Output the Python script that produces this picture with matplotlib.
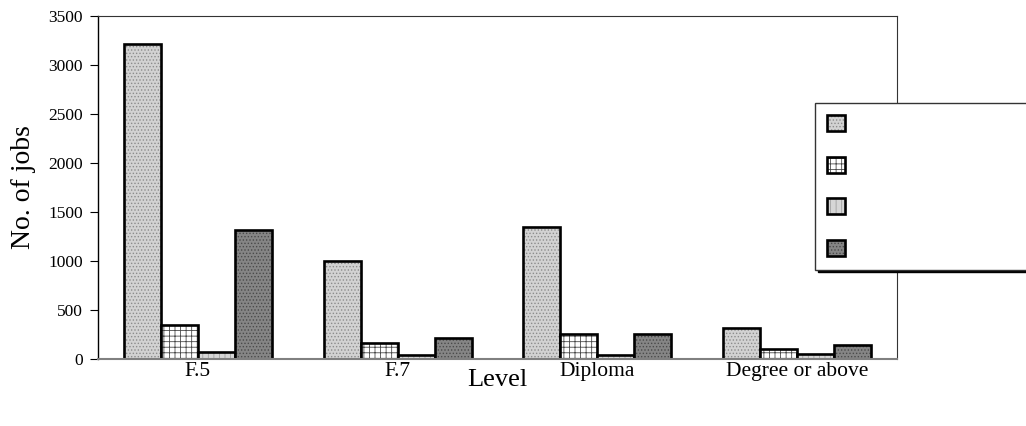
import numpy as np
import matplotlib
matplotlib.use('Agg')
import matplotlib.pyplot as plt

levels = ['F.5', 'F.7', 'Diploma', 'Degree or above']
s1 = [3210, 1000, 1350, 320]
s2 = [350, 160, 260, 100]
s3 = [70, 40, 45, 50]
s4 = [1320, 210, 260, 140]
series = [s1, s2, s3, s4]

# fill, hatch colour, hatch
styles = [('#d2d2d2', '#8c8c8c', '.....'),
          ('#ffffff', '#4a4a4a', '+++'),
          ('#d6d6d6', '#a0a0a0', '|||'),
          ('#858585', '#4a4a4a', '.....')]

plt.rcParams['font.family'] = ['Liberation Serif', 'DejaVu Serif']
plt.rcParams['hatch.linewidth'] = 0.6

fig = plt.figure(figsize=(10.26, 4.26), dpi=100)
ax = fig.add_axes([0.0955, 0.1573, 0.7788, 0.8052])

x = np.arange(len(levels))
w = 0.185
handles = []
for i, vals in enumerate(series):
    pos = x + (i - 1.5) * w
    fc, hc, h = styles[i]
    fill = ax.bar(pos, vals, w, color=fc, edgecolor=hc, hatch=h, linewidth=0)
    edge = ax.bar(pos, vals, w, facecolor='none', edgecolor='black', linewidth=1.9)
    handles.append((fill, edge))

ax.set_xlim(-0.5, 3.5)
ax.set_ylim(0, 3500)
ax.set_yticks(range(0, 3501, 500))
ax.set_xticks(x)
ax.set_xticklabels(levels, fontsize=15.5)
ax.tick_params(axis='x', length=0, pad=2)
ax.tick_params(axis='y', labelsize=12.5, length=5.5, pad=5.5, direction='out')
ax.set_ylabel('No. of jobs', fontsize=20, labelpad=9)
ax.set_xlabel('Level', fontsize=19)
ax.xaxis.set_label_coords(0.5, -0.03)

ax.spines['left'].set_color('black')
ax.spines['left'].set_linewidth(1.0)
ax.spines['bottom'].set_color('#808080')
ax.spines['bottom'].set_linewidth(1.5)
ax.spines['top'].set_color('#333333')
ax.spines['top'].set_linewidth(0.8)
ax.spines['right'].set_color('#333333')
ax.spines['right'].set_linewidth(0.8)

leg = fig.legend(handles, [''] * 4, loc='upper left',
                 bbox_to_anchor=(815 / 1026, 1 - 103 / 426, 0.3, 0), mode='expand',
                 borderaxespad=0, fontsize=12, handlelength=1.1, handleheight=1.1,
                 labelspacing=1.45, borderpad=0.7, fancybox=False,
                 shadow={'color': 'black', 'alpha': 1})
leg.get_frame().set_edgecolor('#333333')
leg.get_frame().set_linewidth(1.0)

plt.savefig('out.png', dpi=100)
